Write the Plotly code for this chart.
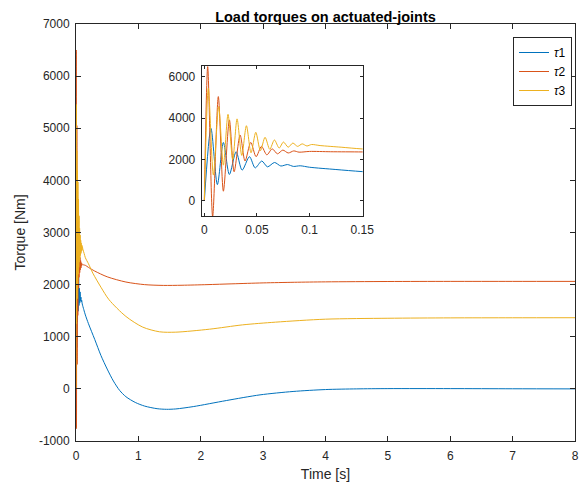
import plotly.graph_objects as go

# ---- data ----
t_tau1 = [0, 0.0063, 0.0124, 0.0181, 0.0238, 0.0302, 0.0359, 0.0429, 0.0483, 0.0546, 0.0600,
          0.0667, 0.0727, 0.0790, 0.0847, 0.0911, 0.100, 0.125, 0.15,
          0.2, 0.3, 0.4, 0.5, 0.6, 0.7, 0.8, 0.95, 1.1, 1.3, 1.45, 1.6, 1.88, 2.41, 2.95,
          3.48, 4.0, 4.5, 5.0, 6.0, 7.0, 8.0]
tau1 = [0, 3510, 790, 2830, 1280, 2380, 1490, 2140, 1600, 1930, 1650,
        1860, 1690, 1760, 1670, 1700, 1630, 1520, 1418,
        1250, 950, 640, 380, 150, -30, -150, -260, -330, -380, -392, -385, -340, -224, -115,
        -50, -13, 0, 5, 5, 2, 0]

t_tau2 = [0, 0.0032, 0.0079, 0.0133, 0.0181, 0.0238, 0.0283, 0.0340, 0.0387, 0.0441, 0.0492,
          0.0543, 0.0594, 0.0645, 0.0695, 0.0746, 0.0797, 0.085, 0.09, 0.10, 0.12, 0.15,
          0.2, 0.3, 0.5, 0.8, 1.1, 1.4, 1.7, 2.1, 2.5, 3.0, 3.5, 4.0, 5.0, 6.0, 7.0, 8.0]
tau2 = [0, 6500, -760, 5050, 470, 3920, 1410, 3190, 1930, 2830, 2140,
        2640, 2230, 2520, 2280, 2460, 2320, 2420, 2360, 2395, 2380, 2370,
        2330, 2260, 2150, 2050, 2000, 1985, 1988, 2000, 2015, 2033, 2045, 2053, 2060, 2062, 2062, 2062]

t_tau3 = [0, 0.0038, 0.0086, 0.0136, 0.0181, 0.0225, 0.0270, 0.0311, 0.0356, 0.0400, 0.0444,
          0.0489, 0.0533, 0.0577, 0.0622, 0.0666, 0.0711, 0.0752, 0.0797, 0.0841, 0.0886,
          0.0930, 0.0975, 0.1019, 0.11, 0.13, 0.15,
          0.2, 0.27, 0.4, 0.53, 0.8, 1.07, 1.34, 1.6, 2.14, 2.67, 3.2, 4.0, 5.0, 6.0, 7.0, 8.0]
tau3 = [0, 5456, 1250, 4566, 1730, 4190, 2000, 3970, 2200, 3640, 2330,
        3320, 2430, 3080, 2500, 2950, 2560, 2850, 2600, 2800, 2640,
        2760, 2660, 2730, 2680, 2600, 2516,
        2400, 2220, 1950, 1710, 1390, 1185, 1095, 1088, 1145, 1228, 1280, 1337, 1355, 1362, 1364, 1365]

names = ["<i>τ</i>1", "<i>τ</i>2", "<i>τ</i>3"]
colors = ["#0072BD", "#D95319", "#EDB120"]
series = [(t_tau1, tau1), (t_tau2, tau2), (t_tau3, tau3)]

main_xticks = [0, 1, 2, 3, 4, 5, 6, 7, 8]
main_yticks = [-1000, 0, 1000, 2000, 3000, 4000, 5000, 6000, 7000]
main_ylabels = ["-1000", "0", "1000", "2000", "3000", "4000", "5000", "6000", "7000"]
inset_xticks = [0, 0.05, 0.1, 0.15]
inset_xlabels = ["0", "0.05", "0.1", "0.15"]
inset_yticks = [0, 2000, 4000, 6000]

FONT = "Liberation Sans, Arial, Helvetica, sans-serif"
AX = "#262626"

fig = go.Figure()
for (tx, ty), nm, c in zip(series, names, colors):
    fig.add_trace(go.Scatter(x=tx, y=ty, mode="lines", name=nm,
                             line=dict(color=c, width=1, shape="spline", smoothing=0.8),
                             xaxis="x", yaxis="y"))
for (tx, ty), nm, c in zip(series, names, colors):
    fig.add_trace(go.Scatter(x=tx, y=ty, mode="lines", name=nm, showlegend=False,
                             line=dict(color=c, width=1, shape="spline", smoothing=0.8),
                             xaxis="x2", yaxis="y2"))

# the page body adds an 8 px offset; the figure is sized to fill the rest of the window
OFF = 8
W, H = 587 - OFF, 487 - OFF
L, R, T, B = 76 - OFF, 12, 24 - OFF, 46
pw, ph = W - L - R, H - T - B

def fx(px):  # reference-image x -> paper fraction
    return (px - OFF - L) / pw

def fy(py):  # reference-image y -> paper fraction
    return (H - B - (py - OFF)) / ph

common = dict(showline=True, linecolor=AX, linewidth=1, mirror="ticks", ticks="inside",
              tickcolor=AX, showgrid=False, zeroline=False, automargin=False,
              tickfont=dict(family=FONT, size=12, color=AX))

fig.update_layout(
    width=W, height=H,
    margin=dict(l=L, r=R, t=T, b=B, autoexpand=False),
    paper_bgcolor="white", plot_bgcolor="white",
    font=dict(family=FONT, color=AX),
    title=dict(text="<b>Load torques on actuated-joints</b>", x=fx(325.5), xanchor="center",
               xref="paper", yref="container", automargin=False,
               y=1 - (16.5 - OFF) / H, yanchor="middle",
               font=dict(family=FONT, size=14.5, color="black")),
    xaxis=dict(domain=[0, 1], range=[0, 8], tickvals=main_xticks, ticklen=5, anchor="y",
               ticklabelstandoff=4,
               title=dict(text="Time [s]", standoff=6, font=dict(family=FONT, size=14, color=AX)),
               **common),
    yaxis=dict(domain=[0, 1], range=[-1000, 7000], tickvals=main_yticks, ticktext=main_ylabels,
               ticklen=5, anchor="x", ticklabelstandoff=3,
               title=dict(text="Torque [Nm]", standoff=9, font=dict(family=FONT, size=14, color=AX)),
               **common),
    xaxis2=dict(domain=[fx(201.7), fx(362.7)], range=[-0.0025, 0.1505], tickvals=inset_xticks,
                ticktext=inset_xlabels, ticklen=3, anchor="y2", ticklabelstandoff=3, **common),
    yaxis2=dict(domain=[fy(216), fy(66)], range=[-730, 6530], tickvals=inset_yticks,
                ticklen=3, anchor="x2", ticklabelstandoff=3, **common),
    legend=dict(x=fx(572), y=fy(37), xanchor="right", yanchor="top",
                bgcolor="white", bordercolor=AX, borderwidth=1,
                font=dict(family=FONT, size=12, color="black"),
                tracegroupgap=0, itemwidth=30),
    showlegend=True,
)

fig.write_html("out.html")
